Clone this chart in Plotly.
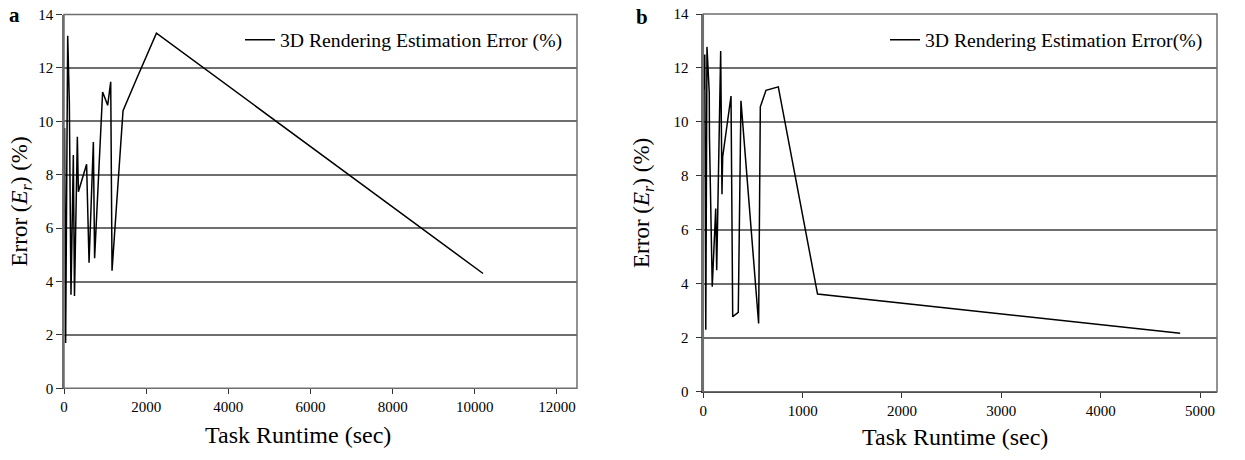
import plotly.graph_objects as go

# Panel a - runtime (sec) vs estimation error (%)
runtime_a = [15, 40, 90, 130, 170, 227, 255, 325, 350, 550, 610, 715, 745,
             940, 1063, 1137, 1169, 1437, 1770, 2250, 10200]
error_a = [9.75, 1.7, 13.2, 10.7, 3.5, 8.74, 3.46, 9.42, 7.36, 8.39, 4.7, 9.22,
           4.87, 11.1, 10.6, 11.48, 4.4, 10.4, 11.6, 13.3, 4.3]

# Panel b
runtime_b = [8, 15, 25, 37, 60, 62, 90, 125, 135, 175, 188, 195, 279, 296,
             352, 379, 557, 574, 631, 755, 1150, 4800]
error_b = [11.2, 12.5, 2.3, 12.78, 11.07, 9.44, 3.89, 6.79, 4.5, 12.63, 7.32,
           8.7, 10.96, 2.78, 2.94, 10.78, 2.53, 10.56, 11.17, 11.3, 3.62, 2.17]

ticks_y = [0, 2, 4, 6, 8, 10, 12, 14]
ticks_xa = [0, 2000, 4000, 6000, 8000, 10000, 12000]
ticks_xb = [0, 1000, 2000, 3000, 4000, 5000]

FONT = "Times New Roman"
W, H = 1245, 460


def px(x):
    return x / W


def py(y):
    return 1 - y / H


fig = go.Figure()
fig.add_trace(go.Scatter(
    x=runtime_a, y=error_a, mode="lines", xaxis="x", yaxis="y",
    line=dict(color="black", width=1.5), showlegend=True,
    name="3D Rendering Estimation Error (%)", legend="legend",
))
fig.add_trace(go.Scatter(
    x=runtime_b, y=error_b, mode="lines", xaxis="x2", yaxis="y2",
    line=dict(color="black", width=1.5), showlegend=True,
    name="3D Rendering Estimation Error(%)", legend="legend2",
))

xcommon = dict(
    showgrid=False, zeroline=False, showline=True, linecolor="#333", linewidth=1,
    ticks="outside", ticklen=5, tickcolor="#333", tickformat="d", automargin=False,
    tickfont=dict(family=FONT, size=15, color="black"),
)
ycommon = dict(
    range=[0, 14], tickvals=ticks_y, showgrid=True, gridcolor="#6e6e6e", gridwidth=1.5,
    zeroline=False, showline=True, linecolor="#6e6e6e", linewidth=1.5, automargin=False,
    ticks="outside", ticklen=6, tickcolor="#333",
    tickfont=dict(family=FONT, size=15, color="black"),
)
ytitle = "Error (<i>E<sub>r</sub></i>) (%)"
ytitle_font = dict(family=FONT, size=23, color="black")

legend_common = dict(
    yanchor="middle", xanchor="right", bgcolor="rgba(0,0,0,0)",
    font=dict(family=FONT, size=19.7, color="black"), itemwidth=30,
)


def label(text, x, y, size):
    return dict(text=text, x=px(x), y=py(y), xref="paper", yref="paper",
                xanchor="center", yanchor="middle", showarrow=False,
                font=dict(family=FONT, size=size, color="black"))


fig.update_layout(
    width=W, height=H,
    margin=dict(l=0, r=0, t=0, b=0, autoexpand=False),
    font=dict(family=FONT, color="black"),
    paper_bgcolor="white", plot_bgcolor="white",
    showlegend=True,
    xaxis=dict(xcommon, domain=[px(64), px(577)], range=[0, 12487], tickvals=ticks_xa, anchor="y"),
    yaxis=dict(ycommon, domain=[py(388.3), py(14.5)], anchor="x",
               title=dict(text=ytitle, font=ytitle_font, standoff=4)),
    xaxis2=dict(xcommon, domain=[px(703.3), px(1217)], range=[0, 5171], tickvals=ticks_xb, anchor="y2"),
    yaxis2=dict(ycommon, domain=[py(391.7), py(14)], anchor="x2", ticklabelstandoff=4,
                title=dict(text=ytitle, font=ytitle_font, standoff=17)),
    legend=dict(legend_common, x=px(568), y=py(40)),
    legend2=dict(legend_common, x=px(1208), y=py(40)),
    annotations=[
        label("<b>a</b>", 14, 15, 21),
        label("<b>b</b>", 642, 17, 21),
        label("Task Runtime (sec)", 298, 435, 24),
        label("Task Runtime (sec)", 955, 437, 24),
    ],
    shapes=[
        dict(type="rect", xref="x domain", yref="y domain", x0=0, x1=1, y0=0, y1=1,
             line=dict(color="#6e6e6e", width=1.5)),
        dict(type="rect", xref="x2 domain", yref="y2 domain", x0=0, x1=1, y0=0, y1=1,
             line=dict(color="#6e6e6e", width=1.5)),
    ],
)

# drop the browser's default 8px body margin so the figure fills the window
fig.write_html("out.html", config={"displayModeBar": False},
               post_script="document.body.style.margin = '0';")
